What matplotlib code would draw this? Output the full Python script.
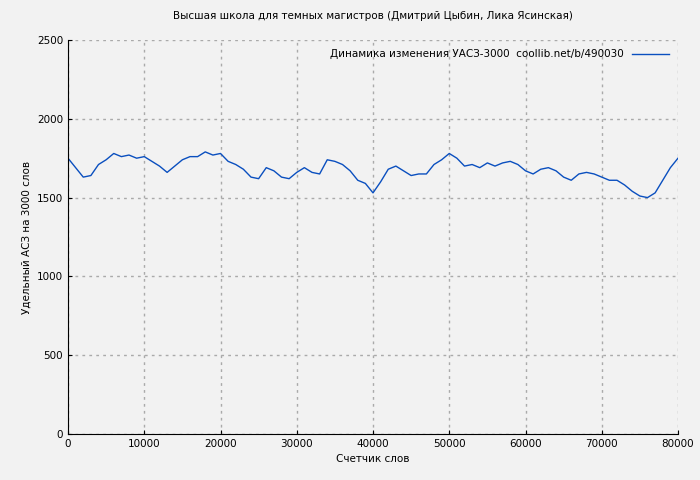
import matplotlib
matplotlib.use("Agg")
import matplotlib.pyplot as plt

# word counter (thousands) and specific ASZ values
words = [i * 1000 for i in range(81)]
values = [1750, 1690, 1630, 1640, 1710, 1740, 1780, 1760, 1770, 1750,
          1760, 1730, 1700, 1660, 1700, 1740, 1760, 1760, 1790, 1770,
          1780, 1730, 1710, 1680, 1630, 1620, 1690, 1670, 1630, 1620,
          1660, 1690, 1660, 1650, 1740, 1730, 1710, 1670, 1610, 1590,
          1530, 1600, 1680, 1700, 1670, 1640, 1650, 1650, 1710, 1740,
          1780, 1750, 1700, 1710, 1690, 1720, 1700, 1720, 1730, 1710,
          1670, 1650, 1680, 1690, 1670, 1630, 1610, 1650, 1660, 1650,
          1630, 1610, 1610, 1580, 1540, 1510, 1500, 1530, 1610, 1690,
          1750]

plt.rcParams['font.family'] = 'DejaVu Sans'
fig = plt.figure(figsize=(7, 4.8), dpi=100)
ax = fig.add_axes([68 / 700, 46 / 480, 610 / 700, 394 / 480])
fig.patch.set_facecolor('#f2f2f2')
ax.set_facecolor('#f2f2f2')

ax.plot(words, values, color='#0a4fbf', lw=1,
        label='Динамика изменения УАСЗ-3000  coollib.net/b/490030')
ax.set_xlim(0, 80000)
ax.set_ylim(0, 2500)
ax.set_xticks(range(0, 80001, 10000))
ax.set_yticks(range(0, 2501, 500))
ax.grid(True, color='#aaaaaa', linestyle=(0, (2, 3)), lw=1)
ax.tick_params(labelsize=7.5, direction='in', length=3)
for s in ['top', 'right']:
    ax.spines[s].set_visible(False)

ax.set_title('Высшая школа для темных магистров (Дмитрий Цыбин, Лика Ясинская)', fontsize=7.5, pad=15)
ax.set_xlabel('Счетчик слов', fontsize=7.5)
ax.set_ylabel('Удельный АСЗ на 3000 слов', fontsize=7.5)
leg = ax.legend(loc='upper right', fontsize=7.5, frameon=False, markerfirst=False,
                handlelength=3.5)

fig.savefig('out.png', dpi=100, facecolor=fig.get_facecolor())
